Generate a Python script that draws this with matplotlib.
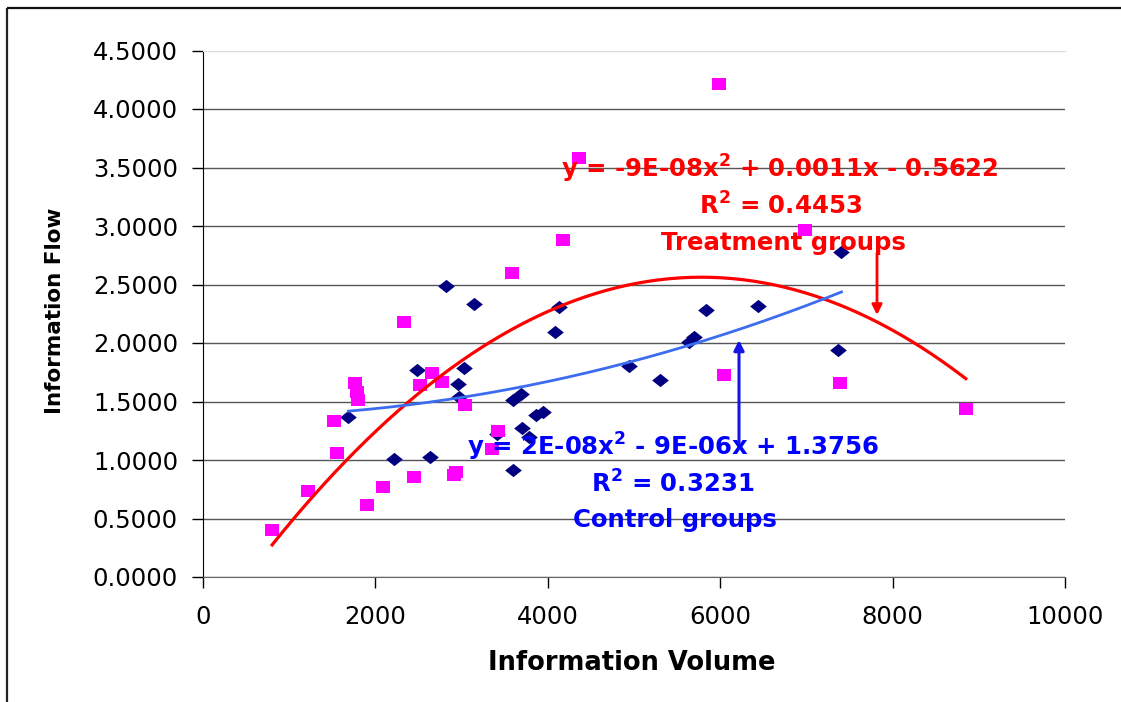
import numpy as np
import matplotlib
matplotlib.use("Agg")
import matplotlib.pyplot as plt
from matplotlib.lines import Line2D
from matplotlib.ticker import FixedLocator, FuncFormatter

# treatment groups (pink squares)
treat_x = [802, 1221, 1523, 1558, 1767, 1791, 1802, 1907, 2093, 2337, 2442, 2523, 2651, 2767,
           2907, 2930, 3035, 3349, 3419, 3581, 4174, 4360, 5988, 6047, 6988, 7395, 8849]
treat_y = [0.401, 0.734, 1.332, 1.059, 1.657, 1.580, 1.512, 0.615, 0.769, 2.178, 0.854, 1.640, 1.742, 1.665,
           0.871, 0.897, 1.469, 1.093, 1.247, 2.596, 2.878, 3.578, 4.210, 1.725, 2.963, 1.657, 1.435]

# control groups (navy diamonds)
ctrl_x = [1686, 2221, 2488, 2628, 2814, 2953, 2965, 3023, 3140, 3407, 3593, 3593, 3686, 3698,
          3779, 3860, 3942, 4081, 4128, 4942, 5302, 5640, 5698, 5837, 6442, 7372, 7407]
ctrl_y = [1.366, 1.008, 1.768, 1.025, 2.485, 1.648, 1.537, 1.785, 2.331, 1.221, 0.914, 1.512, 1.563, 1.272,
          1.196, 1.383, 1.409, 2.092, 2.306, 1.802, 1.682, 2.007, 2.050, 2.280, 2.314, 1.939, 2.775]

x_ticks = [0, 2000, 4000, 6000, 8000, 10000]
y_ticks = [0.0, 0.5, 1.0, 1.5, 2.0, 2.5, 3.0, 3.5, 4.0, 4.5]

treat_eq = "y = -9E-08x$^2$ + 0.0011x - 0.5622"
treat_r2 = "R$^2$ = 0.4453"
ctrl_eq = "y = 2E-08x$^2$ - 9E-06x + 1.3756"
ctrl_r2 = "R$^2$ = 0.3231"

plt.rcParams['font.family'] = ['DejaVu Sans']
plt.rcParams['mathtext.default'] = 'regular'

W, H = 1121, 702
fig = plt.figure(figsize=(W / 100, H / 100), dpi=100)
ax = fig.add_axes([203 / W, 1 - 577 / H, (1065 - 203) / W, (577 - 50.5) / H])

# wide-ish markers, the original looks horizontally stretched
sq = [(-1.15, -1), (1.15, -1), (1.15, 1), (-1.15, 1), (-1.15, -1)]
dm = [(-1.25, 0), (0, 1), (1.25, 0), (0, -1), (-1.25, 0)]

ax.plot(ctrl_x, ctrl_y, linestyle='none', marker=dm, markersize=12,
        color='#000080', markeredgewidth=0, zorder=3)
ax.plot(treat_x, treat_y, linestyle='none', marker=sq, markersize=10,
        color='#ff00ff', markeredgewidth=0, zorder=3)

# polynomial trendlines, order 2
tc = np.polyfit(treat_x, treat_y, 2)
tx = np.linspace(min(treat_x), max(treat_x), 200)
ax.plot(tx, np.polyval(tc, tx), color='#ff0000', linewidth=2.3, zorder=4)

cc = np.polyfit(ctrl_x, ctrl_y, 2)
cx = np.linspace(min(ctrl_x), max(ctrl_x), 200)
ax.plot(cx, np.polyval(cc, cx), color='#3c6cf0', linewidth=2.0, zorder=4)

ax.set_xlim(0, 10000)
ax.set_ylim(0, 4.5)
ax.xaxis.set_major_locator(FixedLocator(x_ticks))
ax.yaxis.set_major_locator(FixedLocator(y_ticks))
ax.yaxis.set_major_formatter(FuncFormatter(lambda v, p: f"{v:.4f}"))
ax.xaxis.set_major_formatter(FuncFormatter(lambda v, p: f"{int(v)}"))
ax.tick_params(axis='both', direction='out', length=8, width=1, color='black',
               labelsize=17.5, labelcolor='black')
ax.tick_params(axis='y', pad=10)
ax.tick_params(axis='x', pad=12)

ax.grid(axis='y', color='#555555', linewidth=1.0)
ax.yaxis.get_gridlines()[-1].set_color('#dddddd')
ax.set_axisbelow(True)
ax.spines['right'].set_visible(False)
ax.spines['top'].set_color('#dddddd')
ax.spines['left'].set_color('black')
ax.spines['bottom'].set_color('#666666')

# trendline labels
red_kw = dict(color='#ff0000', fontsize=17.6, fontweight='bold', ha='center', va='baseline',
              transform=ax.transAxes)
def axpos(px, py):
    return (px - 203) / (1065 - 203), (577 - py) / (577 - 50.5)

ax.text(*axpos(780, 178), treat_eq, **red_kw)
ax.text(*axpos(781, 215), treat_r2, **red_kw)
ax.text(*axpos(783, 250), "Treatment groups", **red_kw)

blue_kw = dict(red_kw, color='#0000ff')
ax.text(*axpos(673, 456), ctrl_eq, **blue_kw)
ax.text(*axpos(673, 493), ctrl_r2, **blue_kw)
ax.text(*axpos(675, 527), "Control groups", **blue_kw)

ax.annotate("", xy=axpos(877, 315), xytext=axpos(877, 253), xycoords='axes fraction',
            arrowprops=dict(arrowstyle='-|>', color='#ff0000', lw=2, mutation_scale=15,
                            shrinkA=0, shrinkB=0))
ax.annotate("", xy=axpos(739, 340), xytext=axpos(739, 443), xycoords='axes fraction',
            arrowprops=dict(arrowstyle='-|>', color='#1414e6', lw=2.2, mutation_scale=15,
                            shrinkA=0, shrinkB=0))

fig.text(632 / W, 1 - 670 / H, "Information Volume", fontsize=18.5, fontweight='bold',
         ha='center', va='baseline')
fig.text(55 / W, 1 - 311 / H, "Information Flow", fontsize=15.5, fontweight='bold',
         ha='center', va='center', rotation=90)

# outer frame (left and top only visible)
fig.add_artist(Line2D([6.5 / W, 6.5 / W], [0, 1 - 8 / H], color='#222222', linewidth=1.6,
                      solid_capstyle='butt'))
fig.add_artist(Line2D([6.5 / W, 1.01], [1 - 8 / H, 1 - 8 / H], color='#111111', linewidth=1.6,
                      solid_capstyle='butt'))

fig.savefig("out.png", dpi=100)
